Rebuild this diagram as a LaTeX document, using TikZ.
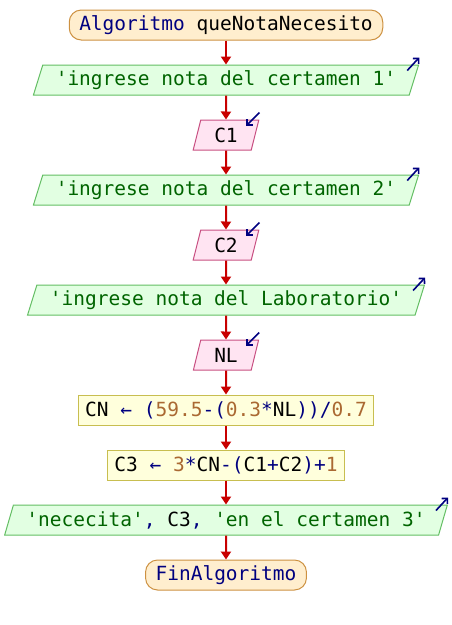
\documentclass[tikz,border=0pt]{standalone}
\usepackage{fontspec}
\setmonofont{DejaVu Sans Mono}
\usepackage{xcolor}
\usepackage{tikz}
\usetikzlibrary{shapes.geometric,arrows.meta}

\definecolor{termfill}{RGB}{255,238,206}
\definecolor{termline}{RGB}{205,145,65}
\definecolor{outfill}{RGB}{226,255,226}
\definecolor{outline}{RGB}{100,190,100}
\definecolor{infill}{RGB}{255,228,242}
\definecolor{inpline}{RGB}{200,80,130}
\definecolor{asgfill}{RGB}{255,255,220}
\definecolor{asgline}{RGB}{200,190,80}
\definecolor{kwnavy}{RGB}{0,0,128}
\definecolor{strgreen}{RGB}{0,100,0}
\definecolor{numbrown}{RGB}{170,105,50}
\definecolor{flowred}{RGB}{200,0,0}

\newcommand{\kw}[1]{\textcolor{kwnavy}{#1}}
\newcommand{\nm}[1]{\textcolor{numbrown}{#1}}
\newcommand{\str}[1]{\textcolor{strgreen}{\textquotesingle#1\textquotesingle}}

\begin{document}
\begin{tikzpicture}[x=1pt,y=1pt,node distance=55pt,font=\ttfamily\fontsize{19.5}{22}\selectfont]
\tikzstyle{termbox} = [rectangle, draw=termline, fill=termfill, line width=1pt, rounded corners=12pt, minimum height=30pt, inner xsep=10pt]
\tikzstyle{outbox} = [trapezium, trapezium left angle=68, trapezium right angle=112, trapezium stretches=true, draw=outline, fill=outfill, line width=1pt, minimum height=30pt, inner xsep=13pt, inner ysep=2pt]
\tikzstyle{inbox} = [trapezium, trapezium left angle=68, trapezium right angle=112, trapezium stretches=true, draw=inpline, fill=infill, line width=1pt, minimum height=30pt, inner xsep=13.5pt, inner ysep=2pt]
\tikzstyle{asgbox} = [rectangle, draw=asgline, fill=asgfill, line width=1pt, minimum height=30pt, inner xsep=7pt]
\tikzstyle{arrow} = [line width=2pt, draw=flowred, -{Triangle[width=10pt,length=8pt]}]
\tikzstyle{ioarrow} = [line width=1.6pt, draw=kwnavy, -{Straight Barb[length=4pt,width=8pt]}]

\useasboundingbox (0,0) rectangle (452,-625);

\node (start) [termbox] at (226,-25) {\kw{Algoritmo} queNotaNecesito};
\node (out1) [outbox, below of=start] {\str{ingrese nota del certamen 1}};
\node (in1) [inbox, below of=out1] {C1};
\node (out2) [outbox, below of=in1] {\str{ingrese nota del certamen 2}};
\node (in2) [inbox, below of=out2] {C2};
\node (out3) [outbox, below of=in2] {\str{ingrese nota del Laboratorio}};
\node (in3) [inbox, below of=out3] {NL};
\node (asg1) [asgbox, below of=in3] {CN \kw{←} \kw{(}\nm{59.5}\kw{-(}\nm{0.3}\kw{*}NL\kw{))/}\nm{0.7}};
\node (asg2) [asgbox, below of=asg1] {C3 \kw{←} \nm{3}\kw{*}CN\kw{-(}C1\kw{+}C2\kw{)+}\nm{1}};
\node (out4) [outbox, below of=asg2] {\str{nececita}\kw{,} C3\kw{,} \str{en el certamen 3}};
\node (end) [termbox, below of=out4] {\kw{FinAlgoritmo}};

\draw [arrow] (start) -- (out1);
\draw [arrow] (out1) -- (in1);
\draw [arrow] (in1) -- (out2);
\draw [arrow] (out2) -- (in2);
\draw [arrow] (in2) -- (out3);
\draw [arrow] (out3) -- (in3);
\draw [arrow] (in3) -- (asg1);
\draw [arrow] (asg1) -- (asg2);
\draw [arrow] (asg2) -- (out4);
\draw [arrow] (out4) -- (end);

% io marks
\foreach \n in {out1,out2,out3,out4}
  \draw [ioarrow] ([shift={(-12,-6)}]\n.top right corner) -- ([shift={(0,7)}]\n.top right corner);
\foreach \n in {in1,in2,in3}
  \draw [ioarrow] ([shift={(0,7)}]\n.top right corner) -- ([shift={(-13,-6)}]\n.top right corner);

\end{tikzpicture}
\end{document}
